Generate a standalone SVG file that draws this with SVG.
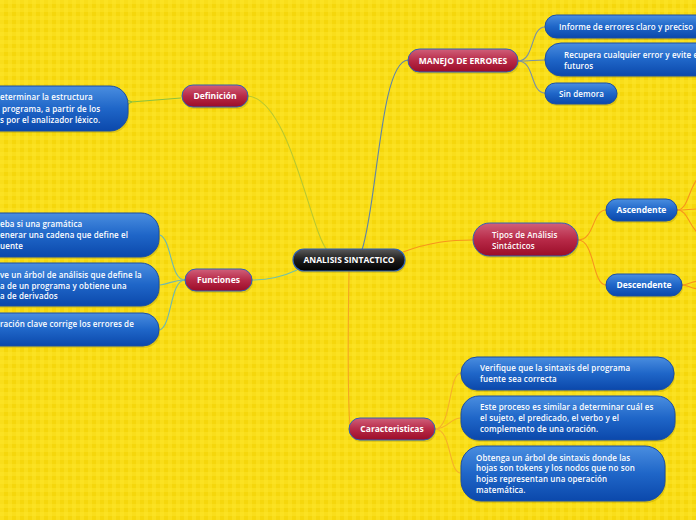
<svg xmlns="http://www.w3.org/2000/svg" width="696" height="520" viewBox="0 0 696 520">
<defs>
<pattern id="bg" width="8" height="8" patternUnits="userSpaceOnUse">
<rect width="8" height="8" fill="#f5d70c"/>
<rect x="0" y="0" width="4" height="8" fill="#fde62a" opacity="0.5"/>
<rect x="0" y="0" width="8" height="4" fill="#fde62a" opacity="0.5"/>
</pattern>
<linearGradient id="gRed" x1="0" y1="0" x2="0" y2="1">
<stop offset="0" stop-color="#d0607a"/>
<stop offset="0.5" stop-color="#b82a48"/>
<stop offset="1" stop-color="#9b0c28"/>
</linearGradient>
<linearGradient id="gBlue" x1="0" y1="0" x2="0" y2="1">
<stop offset="0" stop-color="#4a8ee0"/>
<stop offset="0.5" stop-color="#1f66c8"/>
<stop offset="1" stop-color="#0b48ab"/>
</linearGradient>
<linearGradient id="gBlack" x1="0" y1="0" x2="0" y2="1">
<stop offset="0" stop-color="#5a5a5a"/>
<stop offset="0.5" stop-color="#1c1c1c"/>
<stop offset="1" stop-color="#000"/>
</linearGradient>
<marker id="arr" viewBox="0 0 10 10" refX="2" refY="5" markerWidth="7" markerHeight="7" orient="auto-start-reverse" markerUnits="userSpaceOnUse">
<path d="M9,1 L1,5 L9,9" fill="none" stroke="#8cc13f" stroke-width="1.6"/>
</marker>
</defs>
<style>
.red{fill:url(#gRed);stroke:#2f62b5;stroke-width:1}
.blue{fill:url(#gBlue);stroke:#1b4fa3;stroke-width:1}
.blk{fill:url(#gBlack);stroke:#2f62b5;stroke-width:1.2}
.sh{fill:#8a7a00;opacity:0.25}
text{font-family:"Open Sans","Noto Sans","DejaVu Sans",sans-serif;fill:#fff}
.t{font-size:8px;font-weight:600;letter-spacing:0.1px}
.tc{font-size:8.5px;font-weight:700;text-anchor:middle}
.c{fill:none;stroke-width:1.1}
</style>
<rect width="696" height="520" fill="url(#bg)"/>

<g id="connectors">
<path class="c" d="M248,96 C290,100 310,230 327,250" stroke="#b8c830"/>
<path d="M181,98 L131,102" fill="none" stroke="#8cc13f" stroke-width="1.2" marker-end="url(#arr)"/>
<path class="c" d="M297,270 C280,278 265,280 252,280" stroke="#74c2a6"/>
<path class="c" d="M185,280 C170,280 172,240 160,235" stroke="#6fb8b0"/>
<path class="c" d="M185,280 C172,280 170,284 160,285" stroke="#6fb8b0"/>
<path class="c" d="M185,280 C170,280 172,325 160,330" stroke="#6fb8b0"/>
<path class="c" d="M362,250 C378,200 380,62 408,60" stroke="#5f84a8"/>
<path class="c" d="M518,61 C535,61 530,27 545,27" stroke="#7890a8"/>
<path class="c" d="M518,61 C530,61 535,60 545,60" stroke="#7890a8"/>
<path class="c" d="M518,61 C535,61 530,93 545,93" stroke="#7890a8"/>
<path class="c" d="M403,252 C430,242 450,240 473,240" stroke="#f7941d"/>
<path class="c" d="M578,240 C595,240 592,210 606,210" stroke="#f7941d"/>
<path class="c" d="M578,240 C595,240 592,285 606,285" stroke="#f7941d"/>
<path class="c" d="M677,210 C688,210 688,190 698,178" stroke="#f7941d"/>
<path class="c" d="M677,210 C686,210 690,209 698,209" stroke="#f7941d"/>
<path class="c" d="M677,210 C688,210 688,225 698,233" stroke="#f7941d"/>
<path class="c" d="M682,285 C688,285 690,282 698,281" stroke="#f7941d"/>
<path class="c" d="M682,285 C688,285 690,288 698,289" stroke="#f7941d"/>
<path class="c" d="M349,271 C348,330 348,400 350,428" stroke="#f5a623" stroke-width="0.8"/>
<path class="c" d="M435,429 C452,429 448,373 461,373" stroke="#f5b02a" stroke-width="0.8"/>
<path class="c" d="M435,429 C448,429 450,418 461,418" stroke="#f5b02a" stroke-width="0.8"/>
<path class="c" d="M435,429 C452,429 448,473 461,473" stroke="#f5b02a" stroke-width="0.8"/>
</g>

<g id="center">
<rect class="sh" x="294" y="251" width="112" height="22" rx="11"/>
<rect class="blk" x="293" y="249" width="112" height="22" rx="11"/>
<text class="tc" x="349" y="263">ANALISIS SINTACTICO</text>
</g>

<g id="definicion">
<rect class="sh" x="183" y="87" width="66" height="22" rx="11"/>
<rect class="red" x="182" y="85" width="66" height="22" rx="11"/>
<text class="tc" x="215" y="99">Definición</text>
</g>
<g id="definicion-texto">
<rect class="sh" x="-150" y="88" width="279" height="45" rx="18"/>
<rect class="blue" x="-150" y="86" width="278" height="45" rx="18"/>
<text class="t" x="0" y="100">eterminar la estructura</text>
<text class="t" x="2" y="112"> programa, a partir de los</text>
<text class="t" x="0" y="123">s por el analizador léxico.</text>
</g>

<g id="funciones">
<rect class="sh" x="186" y="271" width="67" height="22" rx="11"/>
<rect class="red" x="185" y="269" width="67" height="22" rx="11"/>
<text class="tc" x="218.5" y="283">Funciones</text>
</g>
<g id="funciones-1">
<rect class="sh" x="-150" y="215" width="310" height="44" rx="18"/>
<rect class="blue" x="-150" y="213" width="309" height="44" rx="18"/>
<text class="t" x="0" y="227">eba si una gramática</text>
<text class="t" x="0" y="238">enerar una cadena que define el</text>
<text class="t" x="0" y="249">uente</text>
</g>
<g id="funciones-2">
<rect class="sh" x="-150" y="265" width="310" height="43" rx="18"/>
<rect class="blue" x="-150" y="263" width="309" height="43" rx="18"/>
<text class="t" x="0" y="278">ve un árbol de análisis que define la</text>
<text class="t" x="0" y="289">a de un programa y obtiene una</text>
<text class="t" x="0" y="299">a de derivados</text>
</g>
<g id="funciones-3">
<rect class="sh" x="-150" y="315" width="310" height="33" rx="16"/>
<rect class="blue" x="-150" y="313" width="309" height="33" rx="16"/>
<text class="t" x="0" y="327">ración clave corrige los errores de</text>
</g>

<g id="manejo">
<rect class="sh" x="409" y="51" width="110" height="23" rx="11.5"/>
<rect class="red" x="408" y="49" width="110" height="23" rx="11.5"/>
<text class="tc" x="463" y="64">MANEJO DE ERRORES</text>
</g>
<g id="manejo-1">
<rect class="sh" x="546" y="17" width="170" height="23" rx="11.5"/>
<rect class="blue" x="545" y="15" width="170" height="23" rx="11.5"/>
<text class="t" x="559" y="30">Informe de errores claro y preciso</text>
</g>
<g id="manejo-2">
<rect class="sh" x="546" y="45" width="170" height="33" rx="16"/>
<rect class="blue" x="545" y="43" width="170" height="33" rx="16"/>
<text class="t" x="564" y="58">Recupera cualquier error y evite e</text>
<text class="t" x="564" y="69">futuros</text>
</g>
<g id="manejo-3">
<rect class="sh" x="546" y="85" width="72" height="21" rx="10.5"/>
<rect class="blue" x="545" y="83" width="72" height="21" rx="10.5"/>
<text class="t" x="559" y="96.5">Sin demora</text>
</g>

<g id="tipos">
<rect class="sh" x="474" y="225" width="105" height="33" rx="16.5"/>
<rect class="red" x="473" y="223" width="105" height="33" rx="16.5"/>
<text class="t" x="492" y="238" font-weight="700">Tipos de Análisis</text>
<text class="t" x="492" y="249" font-weight="700">Sintácticos</text>
</g>
<g id="ascendente">
<rect class="sh" x="607" y="201" width="71" height="22" rx="11"/>
<rect class="blue" x="606" y="199" width="71" height="22" rx="11"/>
<text class="tc" x="641.5" y="213">Ascendente</text>
</g>
<g id="descendente">
<rect class="sh" x="607" y="276" width="76" height="22" rx="11"/>
<rect class="blue" x="606" y="274" width="76" height="22" rx="11"/>
<text class="tc" x="644" y="288">Descendente</text>
</g>

<g id="caracteristicas">
<rect class="sh" x="350" y="420" width="86" height="22" rx="11"/>
<rect class="red" x="349" y="418" width="86" height="22" rx="11"/>
<text class="tc" x="392" y="432">Caracteristicas</text>
</g>
<g id="car-1">
<rect class="sh" x="462" y="359" width="213" height="33" rx="16"/>
<rect class="blue" x="461" y="357" width="213" height="33" rx="16"/>
<text class="t" x="480" y="371">Verifique que la sintaxis del programa</text>
<text class="t" x="480" y="382">fuente sea correcta</text>
</g>
<g id="car-2">
<rect class="sh" x="462" y="398" width="214" height="44" rx="18"/>
<rect class="blue" x="461" y="396" width="214" height="44" rx="18"/>
<text class="t" x="480" y="410">Este proceso es similar a determinar cuál es</text>
<text class="t" x="480" y="421">el sujeto, el predicado, el verbo y el</text>
<text class="t" x="480" y="432">complemento de una oración.</text>
</g>
<g id="car-3">
<rect class="sh" x="462" y="448" width="204" height="55" rx="20"/>
<rect class="blue" x="461" y="446" width="204" height="55" rx="20"/>
<text class="t" x="476" y="460.5">Obtenga un árbol de sintaxis donde las</text>
<text class="t" x="476" y="471">hojas son tokens y los nodos que no son</text>
<text class="t" x="476" y="482">hojas representan una operación</text>
<text class="t" x="476" y="493">matemática.</text>
</g>
</svg>
